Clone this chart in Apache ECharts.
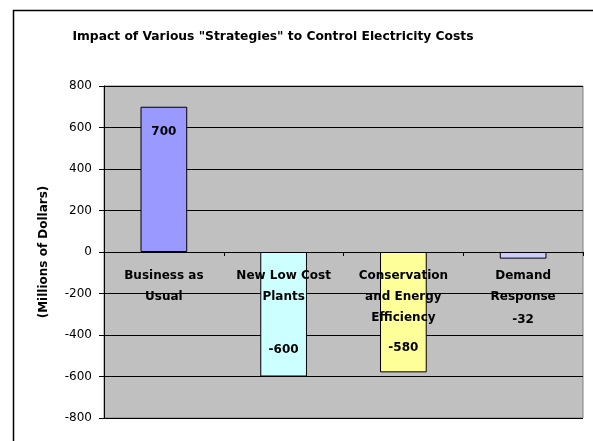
<!DOCTYPE html>
<html>
<head>
<meta charset="utf-8">
<script src="https://cdn.jsdelivr.net/npm/echarts@6/dist/echarts.min.js"></script>
<style>html,body{margin:0;padding:0;background:#fff}#c{width:593px;height:441px}</style>
</head>
<body>
<div id="c"></div>
<script>
const titleText = 'Impact of Various "Strategies" to Control Electricity Costs';
const yAxisName = '(Millions of Dollars)';
const categories = ['Business as\nUsual', 'New Low Cost\nPlants', 'Conservation\nand Energy\nEfficiency', 'Demand\nResponse'];
const values = [700, -600, -580, -32];
const barColors = ['#9999FF', '#CCFFFF', '#FFFF99', '#CCCCFF'];
const yMin = -800, yMax = 800, yStep = 200;

const labelCfg = [
  {position: 'insideTop', distance: 19},
  {position: 'insideBottom', distance: 21},
  {position: 'insideBottom', distance: 18},
  {position: 'bottom', distance: 55}
];

const W = 593, H = 441;
const gridL = 104, gridT = 86, gridR = 10, gridB = 23;
const plotH = H - gridT - gridB;
const zeroOffset = -plotH * (0 - yMin) / (yMax - yMin);

const chart = echarts.init(document.getElementById('c'), null, {renderer: 'canvas'});
const FONT = '"DejaVu Sans", sans-serif';
chart.setOption({
  backgroundColor: '#ffffff',
  animation: false,
  title: {
    text: titleText,
    left: 268, top: 26, textAlign: 'center',
    textStyle: {fontFamily: FONT, fontSize: 12.3, fontWeight: 'bold', color: '#000'}
  },
  graphic: [{
    type: 'polyline', silent: true,
    shape: {points: [[13.5, H + 5], [13.5, 10.5], [W + 5, 10.5]]},
    style: {fill: null, stroke: '#000', lineWidth: 1.5}
  }],
  grid: {left: gridL, top: gridT, right: gridR, bottom: gridB, containLabel: false, outerBoundsMode: 'none',
         show: true, backgroundColor: '#C0C0C0', borderColor: '#808080', borderWidth: 1},
  xAxis: {
    type: 'category',
    data: categories,
    z: 5,
    position: 'bottom',
    offset: zeroOffset,
    axisLine: {onZero: false, lineStyle: {color: '#000', width: 1}},
    axisTick: {show: true, length: 4, inside: false, lineStyle: {color: '#000'}},
    axisLabel: {
      margin: 13, fontFamily: FONT, fontSize: 12, fontWeight: 'bold', color: '#000',
      lineHeight: 21, interval: 0
    },
    splitLine: {show: false}
  },
  yAxis: {
    type: 'value',
    min: yMin, max: yMax, interval: yStep,
    name: yAxisName,
    nameLocation: 'middle',
    nameGap: 54,
    nameRotate: 90,
    nameTextStyle: {fontFamily: FONT, fontSize: 12, fontWeight: 'bold', color: '#000'},
    axisLine: {show: true, lineStyle: {color: '#000'}},
    axisTick: {show: true, length: 5, lineStyle: {color: '#000'}},
    axisLabel: {margin: 12, fontFamily: FONT, fontSize: 12, color: '#000'},
    splitLine: {show: true, lineStyle: {color: '#000', width: 1}}
  },
  series: [{
    type: 'bar',
    barWidth: '39%',
    data: values.map((v, i) => ({
      value: v,
      itemStyle: {color: barColors[i], borderColor: '#000', borderWidth: 1},
      label: {
        show: true,
        position: labelCfg[i].position,
        distance: labelCfg[i].distance,
        fontFamily: FONT, fontSize: 12, fontWeight: 'bold', color: '#000'
      }
    }))
  }]
});
</script>
</body>
</html>
